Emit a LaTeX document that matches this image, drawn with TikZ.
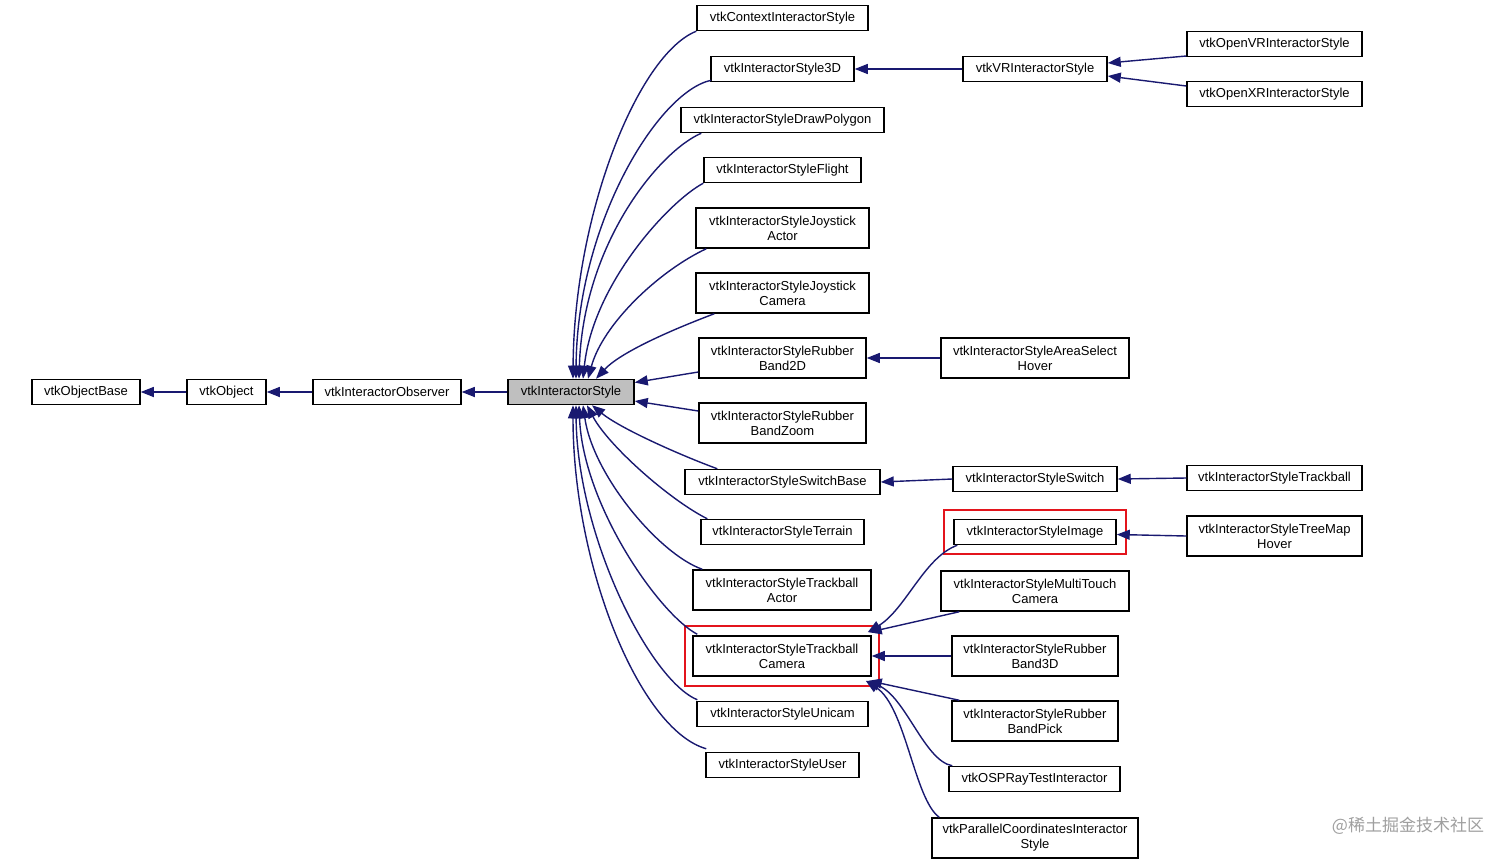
\documentclass[tikz,border=0pt]{standalone}
\usepackage{fontspec}
\setmainfont{Liberation Sans}
\newfontfamily\cjk{Noto Sans CJK SC}
\usetikzlibrary{arrows.meta,calc,fit}
\definecolor{edgeblue}{HTML}{191970}
\definecolor{hlred}{HTML}{E3141C}
\definecolor{basegray}{HTML}{BFBFBF}
\begin{document}
\begin{tikzpicture}[x=1pt,y=-1pt,
  cls/.style={draw=black, line width=1.5pt, fill=white, inner sep=0pt, align=center,
    font=\fontsize{13}{15}\selectfont},
  one/.style={cls, minimum height=25pt},
  two/.style={cls, minimum height=40pt},
  inh/.style={draw=edgeblue, line width=1.4pt, -{Triangle[length=13pt,width=10pt]}},
  hlbox/.style={draw=hlred, line width=1.8pt},
  wmark/.style={text=gray!75, font=\cjk\fontsize{17}{17}\selectfont}]
\useasboundingbox (0,0) rectangle (1512,860);

% base chain
\node[one, minimum width=108pt] (ob)  at (86,392)  {vtkObjectBase};
\node[one, minimum width=79pt]  (obj) at (226.5,392) {vtkObject};
\node[one, minimum width=148pt] (obs) at (387,392) {vtkInteractorObserver};
\node[one, minimum width=126pt, fill=basegray] (is) at (571,392) {vtkInteractorStyle};

% children column
\node[one, minimum width=171pt] (ctx) at (782.5,18)  {vtkContextInteractorStyle};
\node[one, minimum width=143pt] (s3d) at (782.5,69)  {vtkInteractorStyle3D};
\node[one, minimum width=203pt] (dp)  at (782.5,120) {vtkInteractorStyleDrawPolygon};
\node[one, minimum width=157pt] (fl)  at (782.5,170) {vtkInteractorStyleFlight};
\node[two, minimum width=173pt] (ja)  at (782.5,228)   {vtkInteractorStyleJoystick\\Actor};
\node[two, minimum width=173pt] (jc)  at (782.5,293)   {vtkInteractorStyleJoystick\\Camera};
\node[two, minimum width=167pt] (rb2) at (782.5,358)   {vtkInteractorStyleRubber\\Band2D};
\node[two, minimum width=167pt] (rbz) at (782.5,423)   {vtkInteractorStyleRubber\\BandZoom};
\node[one, minimum width=195pt] (sb)  at (782.5,482) {vtkInteractorStyleSwitchBase};
\node[one, minimum width=163pt] (ter) at (782.5,532) {vtkInteractorStyleTerrain};
\node[two, minimum width=178pt] (ta)  at (782,590)     {vtkInteractorStyleTrackball\\Actor};
\node[two, minimum width=178pt] (tc)  at (782,656)     {vtkInteractorStyleTrackball\\Camera};
\node[one, minimum width=171pt] (un)  at (782.5,714) {vtkInteractorStyleUnicam};
\node[one, minimum width=153pt] (us)  at (782.5,765) {vtkInteractorStyleUser};

% third column
\node[one, minimum width=144pt] (vr)  at (1035,69)  {vtkVRInteractorStyle};
\node[two, minimum width=188pt] (as)  at (1035,358)   {vtkInteractorStyleAreaSelect\\Hover};
\node[one, minimum width=164pt] (sw)  at (1035,479) {vtkInteractorStyleSwitch};
\node[one, minimum width=162pt] (img) at (1035,532) {vtkInteractorStyleImage};
\node[two, minimum width=188pt] (mt)  at (1035,591)   {vtkInteractorStyleMultiTouch\\Camera};
\node[two, minimum width=166pt] (rb3) at (1035,656)   {vtkInteractorStyleRubber\\Band3D};
\node[two, minimum width=166pt] (rbp) at (1035,721)   {vtkInteractorStyleRubber\\BandPick};
\node[one, minimum width=171pt] (os)  at (1034.5,779) {vtkOSPRayTestInteractor};
\node[two, minimum width=206pt] (pc)  at (1035,838)   {vtkParallelCoordinatesInteractor\\Style};

% fourth column
\node[one, minimum width=175pt] (ovr) at (1274.5,44) {vtkOpenVRInteractorStyle};
\node[one, minimum width=175pt] (oxr) at (1274.5,94) {vtkOpenXRInteractorStyle};
\node[one, minimum width=175pt] (tb)  at (1274.5,478) {vtkInteractorStyleTrackball};
\node[two, minimum width=175pt] (tm)  at (1274.5,536)  {vtkInteractorStyleTreeMap\\Hover};

% highlight frames
\node[hlbox, fit=(img), inner xsep=9pt, inner ysep=9pt] (imgframe) {};
\node[hlbox, fit=(tc), inner xsep=7.5pt, inner ysep=9pt] (tcframe) {};

% chain edges
\draw[inh] (obj.west) -- (ob.east);
\draw[inh] (obs.west) -- (obj.east);
\draw[inh] (is.west) -- (obs.east);

% upper children -> vtkInteractorStyle
\draw[inh] (ctx.south west) .. controls ($(ctx.south west)+(-58,23)$) and ($(is.north)+(3,-165)$) .. ([xshift=2pt]is.north);
\draw[inh] ([xshift=1pt,yshift=2pt]s3d.south west) .. controls ($(s3d.south west)+(-52,9)$) and ($(is.north)+(6,-155)$) .. ([xshift=5pt]is.north);
\draw[inh] ([xshift=21pt]dp.south west) .. controls ($(dp.south west)+(-21,18)$) and ($(is.north)+(12,-135)$) .. ([xshift=8pt]is.north);
\draw[inh] (fl.south west) .. controls ($(fl.south west)+(-34,18)$) and ($(is.north)+(22,-95)$) .. ([xshift=12pt]is.north);
\draw[inh] ([xshift=11pt]ja.south west) .. controls ($(ja.south west)+(-36,22)$) and ($(is.north)+(32,-55)$) .. ([xshift=17pt]is.north);
\draw[inh] ([xshift=19pt]jc.south west) .. controls ($(jc.south west)+(-26,17)$) and ($(is.north)+(49,-26)$) .. ([xshift=25pt]is.north);
\draw[inh] ([yshift=-14pt]rb2.west) -- ([yshift=9.5pt]is.east);
\draw[inh] ([yshift=12pt]rbz.west) -- ([yshift=-9pt]is.east);

% lower children -> vtkInteractorStyle
\draw[inh] ([xshift=33pt]sb.north west) .. controls ($(sb.north west)+(-5,-14)$) and ($(is.south)+(49,23)$) .. ([xshift=21pt]is.south);
\draw[inh] ([xshift=7pt]ter.north west) .. controls ($(ter.north west)+(-31,-19)$) and ($(is.south)+(37,40)$) .. ([xshift=16pt]is.south);
\draw[inh] ([xshift=10pt]ta.north west) .. controls ($(ta.north west)+(-33,-15)$) and ($(is.south)+(22,70)$) .. ([xshift=12pt]is.south);
\draw[inh] ([xshift=5pt,yshift=1pt]tc.north west) .. controls ($(tc.north west)+(-33,-21)$) and ($(is.south)+(12,100)$) .. ([xshift=8pt]is.south);
\draw[inh] ([xshift=1pt,yshift=1pt]un.north west) .. controls ($(un.north west)+(-47,-21)$) and ($(is.south)+(6,130)$) .. ([xshift=5pt]is.south);
\draw[inh] ([xshift=1pt,yshift=3pt]us.north west) .. controls ($(us.north west)+(-66,-22)$) and ($(is.south)+(2,160)$) .. ([xshift=2pt]is.south);

% VR branch
\draw[inh] (vr.west) -- (s3d.east);
\draw[inh] ([yshift=-12pt]ovr.west) -- ([yshift=6pt]vr.east);
\draw[inh] ([yshift=8pt]oxr.west) -- ([yshift=-7pt]vr.east);

% other right-side edges
\draw[inh] (as.west) -- (rb2.east);
\draw[inh] (sw.west) -- (sb.east);
\draw[inh] (tb.west) -- (sw.east);
\draw[inh] (tm.west) -- ([yshift=-2.5pt]img.east);

% children of TrackballCamera
\draw[inh] ([xshift=4pt]img.south west) .. controls ($(img.south west)+(-29,12)$) and ($(tc.north east)+(34,-26)$) .. ([xshift=-4pt,yshift=3pt]tc.north east);
\draw[inh] ([xshift=19pt]mt.south west) -- ([xshift=-3pt,yshift=3pt]tc.north east);
\draw[inh] (rb3.west) -- (tc.east);
\draw[inh] ([xshift=8pt]rbp.north west) -- ([xshift=-3pt,yshift=-4pt]tc.south east);
\draw[inh] ([xshift=4pt]os.north west) .. controls ($(os.north west)+(-24,-5)$) and ($(tc.south east)+(34,20)$) .. ([xshift=-5pt,yshift=-4pt]tc.south east);
\draw[inh] ([xshift=8pt]pc.north west) .. controls ($(pc.north west)+(-17,-18)$) and ($(tc.south east)+(34,30)$) .. ([xshift=-6pt,yshift=-4pt]tc.south east);

% watermark
\node[wmark] (wm) at (1408,826) {@稀土掘金技术社区};
\end{tikzpicture}
\end{document}
